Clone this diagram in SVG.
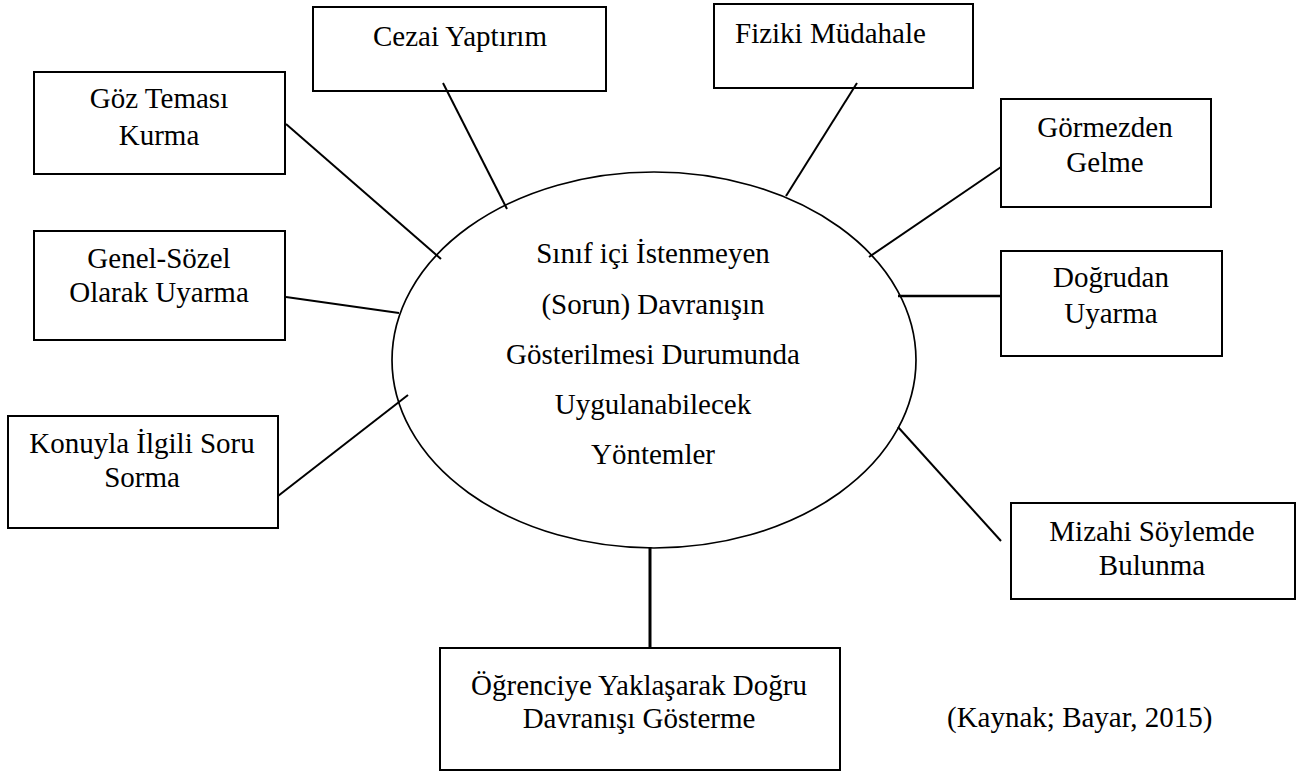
<svg xmlns="http://www.w3.org/2000/svg" width="1312" height="772" viewBox="0 0 1312 772">
<style>
.box{fill:#fff;stroke:#000;stroke-width:2}
.t{font-family:"Liberation Serif","Times New Roman",serif;font-size:29px;fill:#000;text-anchor:middle}
.s{text-anchor:start}
.c{stroke:#000;stroke-width:2;fill:none}
</style>
<rect width="1312" height="772" fill="#fff"/>
<g id="center">
<ellipse cx="654" cy="360" rx="262" ry="188" fill="none" stroke="#000" stroke-width="1.7"/>
<text class="t" x="653" y="263">Sınıf içi İstenmeyen</text>
<text class="t" x="653" y="314">(Sorun) Davranışın</text>
<text class="t" x="653" y="364">Gösterilmesi Durumunda</text>
<text class="t" x="653" y="414">Uygulanabilecek</text>
<text class="t" x="653" y="464">Yöntemler</text>
</g>
<g id="cezai">
<rect class="box" x="313" y="7" width="293" height="84"/>
<text class="t" x="460" y="46">Cezai Yaptırım</text>
</g>
<g id="goz">
<rect class="box" x="34" y="72" width="251" height="102"/>
<text class="t" x="159" y="108">Göz Teması</text>
<text class="t" x="159" y="145">Kurma</text>
</g>
<g id="genel">
<rect class="box" x="34" y="231" width="251" height="109"/>
<text class="t" x="159" y="268">Genel-Sözel</text>
<text class="t" x="159" y="302">Olarak Uyarma</text>
</g>
<g id="konuyla">
<rect class="box" x="8" y="416" width="270" height="112"/>
<text class="t" x="142" y="453">Konuyla İlgili Soru</text>
<text class="t" x="142" y="487">Sorma</text>
</g>
<g id="fiziki">
<rect class="box" x="714" y="4" width="259" height="84"/>
<text class="t s" x="735" y="43">Fiziki Müdahale</text>
</g>
<g id="gormezden">
<rect class="box" x="1001" y="99" width="210" height="108"/>
<text class="t" x="1105" y="137">Görmezden</text>
<text class="t" x="1105" y="172">Gelme</text>
</g>
<g id="dogrudan">
<rect class="box" x="1001" y="251" width="221" height="105"/>
<text class="t" x="1111" y="287">Doğrudan</text>
<text class="t" x="1111" y="323">Uyarma</text>
</g>
<g id="mizahi">
<rect class="box" x="1011" y="503" width="284" height="96"/>
<text class="t" x="1152" y="541">Mizahi Söylemde</text>
<text class="t" x="1152" y="575">Bulunma</text>
</g>
<g id="ogrenciye">
<rect class="box" x="440" y="648" width="400" height="122"/>
<text class="t" x="639" y="695">Öğrenciye Yaklaşarak Doğru</text>
<text class="t" x="639" y="728">Davranışı Gösterme</text>
</g>
<g id="citation">
<text class="t s" x="947" y="727">(Kaynak; Bayar, 2015)</text>
</g>
<g id="connectors">
<line class="c" x1="443" y1="83" x2="507" y2="209"/>
<line class="c" x1="286" y1="124" x2="441" y2="259"/>
<line class="c" x1="286" y1="297" x2="399" y2="313"/>
<line class="c" x1="278" y1="496" x2="408" y2="395"/>
<line class="c" x1="857" y1="83" x2="786" y2="196"/>
<line class="c" x1="1001" y1="167" x2="869" y2="257"/>
<line class="c" x1="898" y1="296" x2="1001" y2="296" style="stroke-width:2.6"/>
<line class="c" x1="898" y1="427" x2="1001" y2="541"/>
<line class="c" x1="650" y1="547" x2="650" y2="648" style="stroke-width:3"/>
</g>
</svg>
